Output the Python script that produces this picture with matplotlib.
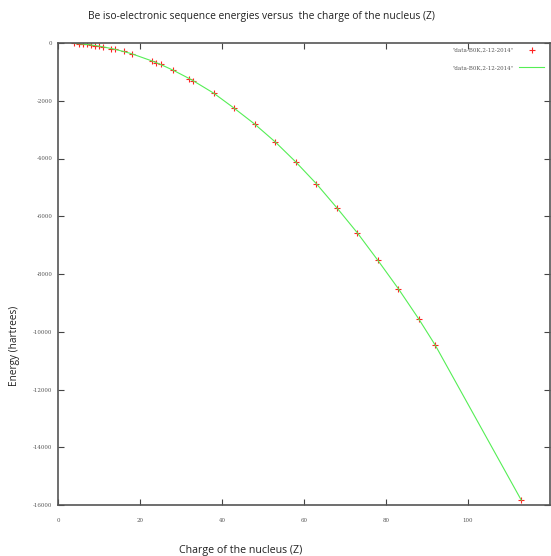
import matplotlib
matplotlib.use("Agg")
import matplotlib.pyplot as plt

# Charge of the nucleus Z and Be iso-electronic sequence energies (hartrees)
charge = [4, 5, 6, 7, 8, 9, 10, 11, 13, 14, 16, 18, 23, 24, 25, 28, 32, 33, 38,
          43, 48, 53, 58, 63, 68, 73, 78, 83, 88, 92, 113]
energy = [-14.67, -24.35, -36.53, -51.2, -68.3, -87.9, -110.1, -134.8, -191.6,
          -223.3, -294.0, -374.0, -625.4, -683.5, -742.5, -936.6, -1230.3,
          -1310.0, -1740.0, -2262.0, -2812.0, -3428.0, -4120.0, -4871.0,
          -5705.0, -6573.0, -7524.0, -8507.0, -9559.0, -10462.0, -15833.0]

xticks = [0, 20, 40, 60, 80, 100]
yticks = [0, -2000, -4000, -6000, -8000, -10000, -12000, -14000, -16000]
series_label = '"data-B0K,2-12-2014"'

W, H = 551, 556
fig = plt.figure(figsize=(W / 100, H / 100), dpi=100)
ax = fig.add_axes([58 / W, 1 - 505 / H, (550 - 58) / W, (505 - 43) / H])

ax.plot(charge, energy, linestyle="none", marker="+", color="#ff2222",
        markersize=5, markeredgewidth=0.8, label=series_label)
ax.plot(charge, energy, color="#55ee55", linewidth=0.8, label=series_label)

ax.set_xlim(0, 120)
ax.set_ylim(-16000, 0)
ax.set_xticks(xticks)
ax.set_yticks(yticks)
ax.set_xticklabels([str(t) for t in xticks], family="DejaVu Serif", fontsize=4, color="#555555")
ax.set_yticklabels([str(t) for t in yticks], family="DejaVu Serif", fontsize=4, color="#555555")
ax.tick_params(axis="both", direction="in", length=4, width=0.8, color="#444444",
               top=True, right=True)
ax.tick_params(axis="x", pad=9)
ax.tick_params(axis="y", pad=4)
for s in ax.spines.values():
    s.set_color("#555555")
    s.set_linewidth(1.2)

fig.text(261 / W, 1 - 17 / H,
         "Be iso-electronic sequence energies versus  the charge of the nucleus (Z)",
         ha="center", va="center", family="Open Sans", fontsize=7.4, color="#222222")
fig.text(241 / W, 1 - 550 / H, "Charge of the nucleus (Z)",
         ha="center", va="center", family="Open Sans", fontsize=7.7, color="#222222")
fig.text(15 / W, 1 - 346 / H, "Energy (hartrees)", rotation=90,
         ha="center", va="center", family="Open Sans", fontsize=7.2, color="#222222")

leg = ax.legend(loc="upper right", bbox_to_anchor=(544 / W, 1 - 48 / H),
                bbox_transform=fig.transFigure, frameon=False, markerfirst=False,
                prop={"family": "DejaVu Serif", "size": 4}, handlelength=4.5,
                labelspacing=2.2, handletextpad=1.0, borderpad=0, borderaxespad=0)
for t in leg.get_texts():
    t.set_color("#555555")

fig.savefig("out.png", dpi=100)
